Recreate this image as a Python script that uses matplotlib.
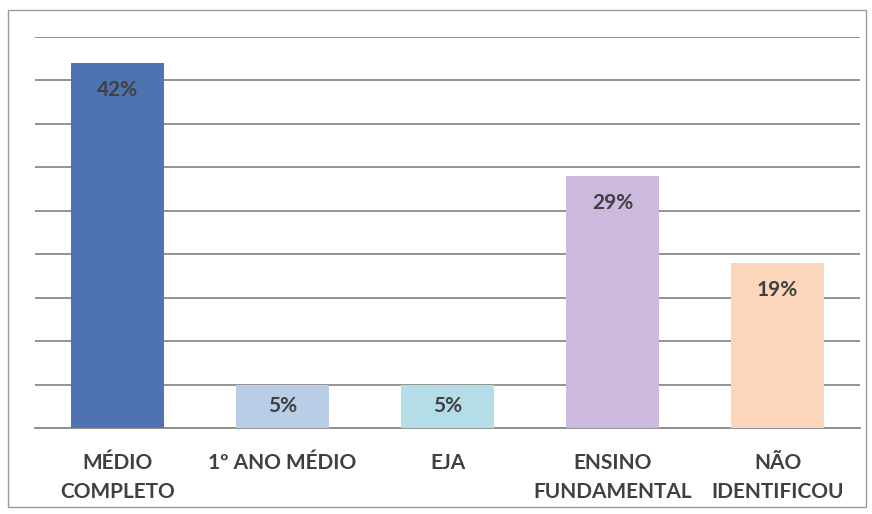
import matplotlib
matplotlib.use("Agg")
import matplotlib.pyplot as plt
from matplotlib.patches import Rectangle

categories = ["MÉDIO\nCOMPLETO", "1º ANO MÉDIO", "EJA", "ENSINO\nFUNDAMENTAL", "NÃO\nIDENTIFICOU"]
values = [42, 5, 5, 29, 19]
labels = ["42%", "5%", "5%", "29%", "19%"]
colors = ["#4f72b1", "#b9cde6", "#b5dde7", "#cdb9dd", "#fbd6bb"]

plt.rcParams['font.family'] = ['Lato', 'DejaVu Sans']

fig = plt.figure(figsize=(8.72, 5.14), dpi=100)
ax = fig.add_axes([35/872, 1-428/514, 825/872, (428-37)/514])

x = range(len(categories))
ax.bar(x, values, width=0.56, color=colors, zorder=3)
ax.set_xlim(-0.5, len(categories)-0.5)
ax.set_ylim(0, 45)
ax.set_yticks(range(0, 46, 5))
ax.yaxis.grid(True, color="#8a8a8a", linewidth=1.3, zorder=0)
ax.tick_params(axis='y', length=0, labelleft=False)
ax.tick_params(axis='x', length=0, pad=18)
ax.set_xticks(list(x))
ax.set_xticklabels(categories, fontsize=15, fontweight='bold', color="#404040", linespacing=1.55)
for s in ["top", "right", "left"]:
    ax.spines[s].set_visible(False)
ax.spines["bottom"].set_color("#8a8a8a")
ax.spines["bottom"].set_linewidth(1.3)

px_per_unit = (428-37)/45
for i, (v, lab) in enumerate(zip(values, labels)):
    off = min(27, v*px_per_unit/2)
    ax.annotate(lab, (i, v), xytext=(0, -off), textcoords="offset pixels",
                ha="center", va="center", fontsize=15, fontweight='bold', color="#404040", zorder=4)

fig.patches.append(Rectangle((8/872, 1-507/514), (866-8)/872, (507-10)/514, transform=fig.transFigure,
                             fill=False, edgecolor="#9a9a9a", linewidth=1.0))

fig.savefig("out.png", dpi=100)
